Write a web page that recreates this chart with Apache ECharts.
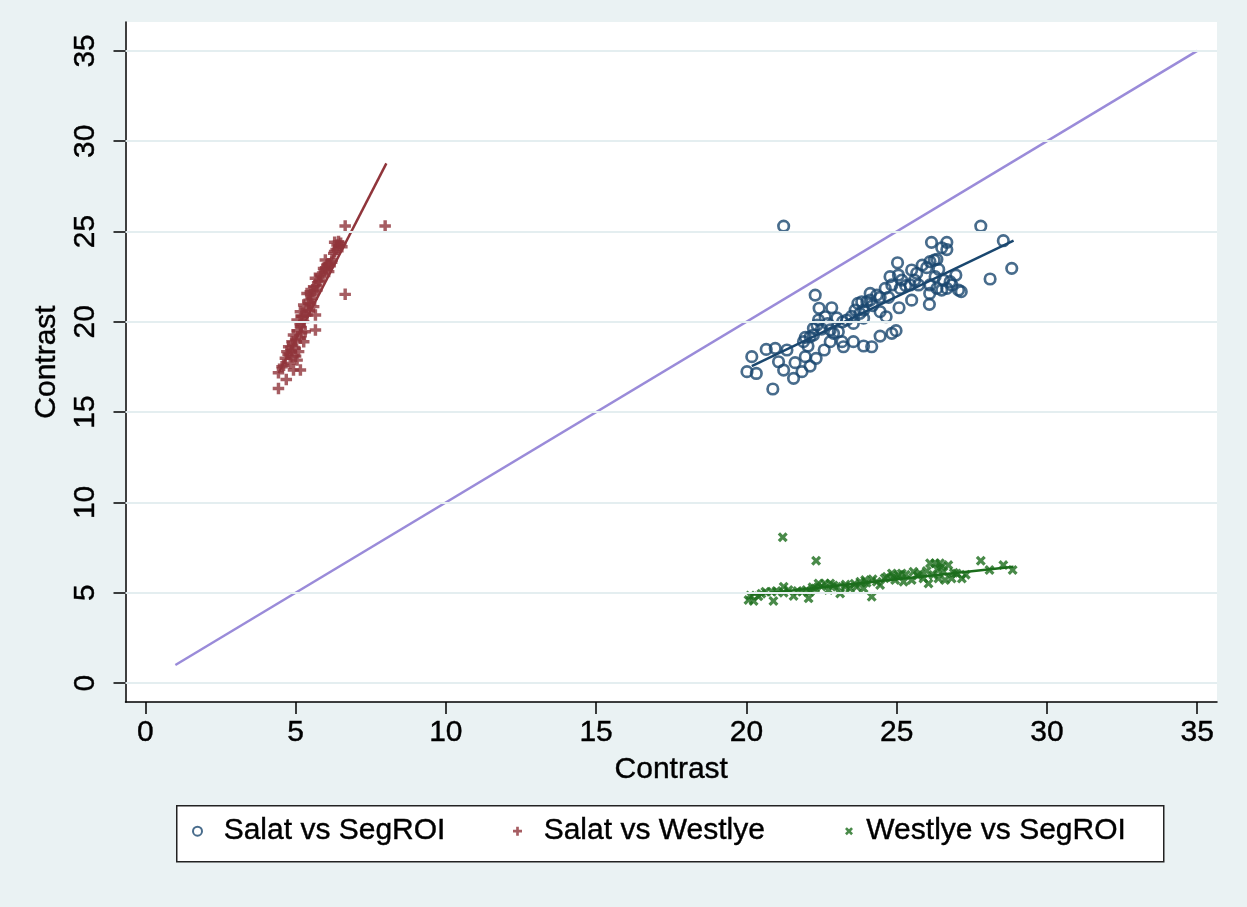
<!DOCTYPE html>
<html>
<head>
<meta charset="utf-8">
<script src="https://cdn.jsdelivr.net/npm/echarts@6/dist/echarts.min.js"></script>
<style>
html,body{margin:0;padding:0;background:#eaf2f3;}
#chart{width:1247px;height:907px;}
</style>
</head>
<body>
<div id="chart"></div>
<script>
// ---- data ----
var tickValues = [0, 5, 10, 15, 20, 25, 30, 35];
var seriesNames = ['Salat vs SegROI', 'Salat vs Westlye', 'Westlye vs SegROI'];

var salatSegROI = [
 [21.24,25.3],[27.8,25.3],[28.55,24.49],[28.83,22.96],[28.11,22.37],[26.16,24.4],[26.67,24.4],[26.5,24.1],[26.67,24.0],
 [26.11,23.33],[26.25,23.42],[26.34,23.46],[25.85,23.14],[25.5,22.87],[25.67,22.69],[25.03,23.27],[24.78,22.5],[25.06,22.59],
 [25.17,22.31],[26.28,22.5],[26.56,22.31],[26.78,22.22],[26.97,22.59],[26.11,22.04],[26.34,21.85],[26.5,21.76],[26.67,21.85],
 [26.84,22.04],[27.06,21.76],[27.15,21.67],[26.1,21.57],[26.09,20.97],[25.5,21.2],[25.08,20.78],[24.62,21.85],[24.84,22.04],
 [25.12,21.85],[25.45,22.04],[25.73,22.04],[24.45,21.35],[24.73,21.35],[24.12,21.57],[24.34,21.48],[23.71,21.02],[23.84,21.11],
 [24.01,21.11],[24.12,21.2],[23.62,20.65],[23.78,20.47],[23.9,20.65],[24.45,20.56],[24.65,20.28],[23.34,20.1],[23.56,19.91],
 [22.29,21.48],[22.42,20.75],[22.84,20.78],[22.62,20.28],[23.01,20.22],[22.4,20.1],[22.35,19.82],[22.23,19.64],[22.23,19.27],
 [21.96,19.14],[22.12,19.17],[22.79,19.55],[22.9,19.36],[23.06,19.45],[22.79,18.9],[23.18,18.9],[23.23,18.62],[23.56,18.9],
 [23.9,18.66],[24.17,18.62],[24.45,19.21],[24.84,19.36],[24.98,19.51],[22.59,18.44],[22.05,18.66],[21.96,18.07],[22.32,17.98],
 [21.62,17.74],[22.12,17.55],[21.85,17.24],[21.57,16.87],[21.24,17.33],[21.07,17.79],[20.66,18.47],[20.96,18.53],[21.35,18.44],
 [20.18,18.07],[20.02,17.24],[20.33,17.14],[20.88,16.28],[23.2,20.0],[25.3,22.0],[26.0,23.0],[22.5,19.6],
 [23.5,20.3],[24.2,20.9],[22.7,19.9],[23.9,20.2],[25.6,22.3],[26.4,22.9],[21.9,18.9]
];
var salatWestlye = [
 [6.65,25.3],[7.98,25.3],[6.65,21.52],[6.38,24.25],[6.54,24.16],[6.43,24.44],[6.27,23.79],[5.99,23.42],[6.21,23.42],
 [6.04,23.14],[5.93,22.96],[6.1,22.78],[5.82,22.59],[5.66,22.41],[5.77,22.22],[5.6,21.94],[5.49,21.67],[5.71,21.76],
 [5.38,21.57],[5.55,21.3],[5.43,21.02],[5.27,20.93],[5.6,20.84],[5.16,20.56],[5.38,20.38],[5.66,20.38],[5.05,20.1],
 [5.27,20.01],[5.16,19.73],[5.66,19.55],[5.32,19.45],[4.93,19.27],[5.16,19.09],[4.88,18.9],[5.27,18.9],[4.77,18.62],
 [4.99,18.53],[4.71,18.35],[5.1,18.35],[4.88,18.07],[4.66,17.98],[5.05,17.88],[4.82,17.7],[4.55,17.51],[4.93,17.33],
 [5.16,17.33],[4.43,17.18],[4.69,16.81],[4.43,16.31],[5.9,22.7],[6.0,23.0],[5.5,21.0],[5.2,20.3],[6.3,23.9],[6.1,23.2],
 [4.6,17.6],[4.75,18.2],[4.9,18.7],[5.0,19.0],[5.05,19.5],[5.15,19.9],[5.25,20.3],[5.35,20.7],[5.45,21.2],[5.5,21.5],
 [5.6,21.7],[5.7,22.0],[5.8,22.3],[5.85,22.5],[6.0,22.9],[6.15,23.1],[6.2,23.3],[6.35,24.0],[6.45,24.2],[6.5,24.35],
 [6.3,24.4],[4.85,18.4],[5.0,18.1],[5.2,19.4],[5.45,20.6]
];
var westlyeSegROI = [
 [21.21,8.07],[22.32,6.77],[27.8,6.77],[28.55,6.53],[28.86,6.26],[28.09,6.26],[24.17,4.78],[20.07,4.6],[20.24,4.54],
 [20.9,4.54],[20.13,4.85],[20.63,5.06],[20.85,5.06],[21.24,5.33],[21.24,5.0],[21.57,4.82],[21.85,5.06],[22.12,5.06],
 [22.07,4.69],[22.29,5.24],[22.4,5.51],[22.62,5.51],[22.73,5.15],[22.79,5.51],[23.01,5.33],[23.12,4.96],[23.29,5.33],
 [23.45,5.24],[23.67,5.33],[23.79,5.61],[23.95,5.7],[23.9,5.24],[24.34,5.61],[24.45,5.43],[24.67,5.88],[24.84,6.07],
 [24.95,5.7],[25.06,5.98],[25.23,5.61],[25.17,6.07],[25.56,6.16],[25.5,5.7],[25.78,6.07],[25.89,5.79],[26.11,6.63],
 [26.28,6.63],[26.44,6.63],[26.72,6.53],[26.06,5.51],[26.22,5.98],[26.39,5.79],[26.61,5.7],[26.83,5.79],[27.0,6.07],
 [27.17,5.79],[26.56,6.16],
 [20.4,4.8],[20.5,4.95],[21.0,5.1],[21.4,5.15],[21.7,5.1],[22.0,5.15],[22.2,5.3],[22.5,5.35],[22.9,5.4],[23.3,5.45],
 [23.6,5.5],[24.0,5.55],[24.2,5.75],[24.6,5.8],[24.9,5.9],[25.3,6.0],[25.7,5.95],[26.0,6.2],[26.35,6.3],[26.5,6.45],
 [26.9,6.1],[27.3,6.0]
];
var fitSalatSegROI = [[20.18,17.55],[28.89,24.49]];
var fitSalatWestlye = [[4.43,17.15],[8.02,28.77]];
var fitWestlyeSegROI = [[20.13,4.87],[28.89,6.44]];
var identityLine = [[1,1],[35,35]];

// ---- styling ----
var BLUE = '#1a476f', RED = '#90353b', GREEN = '#1b6d1b', LAV = '#9a8bd9';
var FONT = '"Liberation Sans", Arial, Helvetica, sans-serif';
var PLUS = 'path://M3.5,0h3v3.5h3.5v3h-3.5v3.5h-3v-3.5h-3.5v-3h3.5z';
var CROSS = 'path://M0,2.3L2.3,0L5,2.7L7.7,0L10,2.3L7.3,5L10,7.7L7.7,10L5,7.3L2.3,10L0,7.7L2.7,5Z';
var TXT = {color: '#000', fontSize: 30, fontFamily: FONT, textBorderColor: '#000', textBorderWidth: 0.4};

var chart = echarts.init(document.getElementById('chart'), null, {renderer: 'canvas'});

function axisCommon() {
  return {
    type: 'value',
    axisLine: {show: true, onZero: false, lineStyle: {color: '#000', width: 1.5}},
    axisTick: {show: true, inside: false, length: 12, customValues: tickValues, lineStyle: {color: '#000', width: 1.5}},
    axisLabel: Object.assign({customValues: tickValues}, TXT),
    splitLine: {show: false},
    nameTextStyle: Object.assign({}, TXT)
  };
}
var xAxis = axisCommon();
xAxis.min = -0.66; xAxis.max = 35.66;
xAxis.name = 'Contrast'; xAxis.nameLocation = 'middle'; xAxis.nameGap = 53;
xAxis.axisLabel.margin = 16;
var yAxis = axisCommon();
yAxis.min = -1.05; yAxis.max = 36.6;
yAxis.name = 'Contrast'; yAxis.nameLocation = 'middle'; yAxis.nameGap = 50;
yAxis.axisLabel.rotate = 90; yAxis.axisLabel.margin = 25;

function legendAt(left, name, icon, style, size, fmt) {
  return {
    left: left, top: 816, padding: 0, itemGap: 0,
    itemWidth: size, itemHeight: size,
    selectedMode: false,
    formatter: fmt,
    textStyle: Object.assign({}, TXT),
    data: [{name: name, icon: icon, itemStyle: style}]
  };
}

chart.setOption({
  backgroundColor: '#eaf2f3',
  animation: false,
  grid: {left: 125.5, right: 30, top: 22, bottom: 205, show: true, backgroundColor: '#ffffff', borderWidth: 0, containLabel: false},
  xAxis: xAxis,
  yAxis: yAxis,
  legend: [
    legendAt(192, seriesNames[0], 'circle', {color: 'rgba(0,0,0,0)', borderColor: BLUE, borderWidth: 2}, 9, '  {name}'),
    legendAt(513, seriesNames[1], PLUS, {color: RED, borderWidth: 0}, 9, '  {name}'),
    legendAt(845, seriesNames[2], CROSS, {color: GREEN, borderWidth: 0}, 8, ' {name}')
  ],
  graphic: [{
    type: 'rect', left: 176, top: 805, z: -1,
    shape: {width: 987, height: 56},
    style: {fill: '#ffffff', stroke: '#222', lineWidth: 1.5}
  }],
  series: [
    {
      name: 'grid', type: 'line', data: [], silent: true, z: 1,
      markLine: {
        silent: true, symbol: ['none', 'none'], label: {show: false},
        lineStyle: {color: '#e4eef0', width: 2, type: 'solid'},
        emphasis: {disabled: true},
        data: tickValues.map(function (v) { return {yAxis: v}; })
      }
    },
    {
      name: seriesNames[0], type: 'scatter', data: salatSegROI, z: 3,
      symbol: 'circle', symbolSize: 10.5,
      itemStyle: {color: 'rgba(0,0,0,0)', borderColor: BLUE, borderWidth: 2.7}
    },
    {
      name: seriesNames[1], type: 'scatter', data: salatWestlye, z: 3,
      symbol: PLUS, symbolSize: 11.5,
      itemStyle: {color: RED}
    },
    {
      name: seriesNames[2], type: 'scatter', data: westlyeSegROI, z: 3,
      symbol: CROSS, symbolSize: 10,
      itemStyle: {color: GREEN}
    },
    {name: 'fit1', type: 'line', data: fitSalatSegROI, symbol: 'none', z: 4, lineStyle: {color: BLUE, width: 2.5}},
    {name: 'fit2', type: 'line', data: fitSalatWestlye, symbol: 'none', z: 4, lineStyle: {color: RED, width: 2.5}},
    {name: 'fit3', type: 'line', data: fitWestlyeSegROI, symbol: 'none', z: 4, lineStyle: {color: GREEN, width: 2.5}},
    {name: 'identity', type: 'line', data: identityLine, symbol: 'none', z: 4, lineStyle: {color: LAV, width: 2.5}}
  ]
});
</script>
</body>
</html>
